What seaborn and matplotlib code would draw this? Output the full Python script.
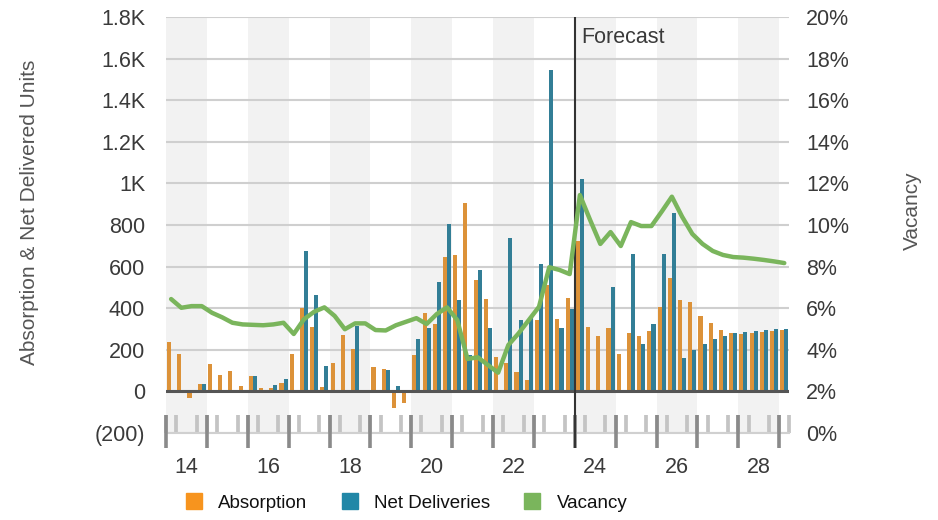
import matplotlib
matplotlib.use("Agg")
import matplotlib.pyplot as plt
import matplotlib.transforms as mtransforms
from matplotlib.lines import Line2D
import pandas as pd
import seaborn as sns

# quarters 2014Q1 .. 2029Q1
years = list(range(2014, 2029))
quarters = [f"{y}Q{q}" for y in years for q in range(1, 5)] + ["2029Q1"]

absorption = [236, 178, -32, 34, 130, 77, 96, 24, 72, 14, 14, 38,
              178, 400, 312, 19, 135, 270, 202, 0, 115, 106, -80, -56,
              173, 375, 322, 645, 654, 904, 534, 442, 164, 135, 91, 53,
              342, 510, 346, 447, 722, 308, 265, 303, 178, 279, 265, 289,
              404, 544, 438, 428, 361, 327, 293, 279, 274, 279, 284, 289, 293]
deliveries = [0, 0, 0, 34, 0, 0, 0, 0, 72, 0, 29, 58,
              0, 673, 462, 120, 0, 0, 315, 0, 0, 101, 24, 0,
              250, 303, 524, 803, 438, 173, 582, 303, 0, 736, 342, 361,
              611, 1545, 303, 394, 1020, 0, 0, 500, 0, 659, 226, 322,
              659, 856, 159, 197, 226, 250, 265, 279, 284, 289, 293, 298, 298]
vacancy = [6.44, 6.02, 6.1, 6.1, 5.78, 5.56, 5.3, 5.22, 5.2, 5.18, 5.22, 5.3,
           4.76, 5.47, 5.83, 6.04, 5.63, 4.99, 5.27, 5.27, 4.95, 4.93, 5.18, 5.35,
           5.52, 5.24, 5.72, 6.04, 5.43, 3.56, 3.64, 3.27, 2.9, 4.23, 4.79, 5.43,
           6.07, 7.97, 7.84, 7.64, 11.44, 10.24, 9.09, 9.66, 8.99, 10.14, 9.95, 9.95,
           10.64, 11.36, 10.4, 9.57, 9.09, 8.75, 8.56, 8.46, 8.43, 8.38, 8.32, 8.25, 8.17]

left_ticks = [-200, 0, 200, 400, 600, 800, 1000, 1200, 1400, 1600, 1800]
left_labels = ["(200)", "0", "200", "400", "600", "800", "1K", "1.2K", "1.4K", "1.6K", "1.8K"]
right_ticks = [0, 2, 4, 6, 8, 10, 12, 14, 16, 18, 20]
forecast_start = "2024Q1"

ORANGE = "#F7941E"
BLUE = "#2187A7"
GREEN = "#7AB55C"
TXT = "#3a3a3a"

sns.set_style("white")
plt.rcParams["font.family"] = ["Liberation Sans", "DejaVu Sans"]
plt.rcParams["font.size"] = 15.5

df = pd.DataFrame({
    "quarter": quarters * 2,
    "value": absorption + deliveries,
    "series": ["Absorption"] * len(quarters) + ["Net Deliveries"] * len(quarters),
})

fig = plt.figure(figsize=(9.38, 5.2), dpi=100)
ax = fig.add_axes([166 / 938, 1 - 433 / 520, 623.4 / 938, 416 / 520])

# alternating year bands
for i, y in enumerate(years):
    if i % 2 == 0:
        ax.axvspan(4 * i - 0.5, 4 * i + 3.5, ymin=-0.01, color="#F2F2F2", zorder=0, lw=0)

sns.barplot(data=df, x="quarter", y="value", hue="series", order=quarters,
            hue_order=["Absorption", "Net Deliveries"],
            palette=[ORANGE, BLUE], width=0.8, linewidth=0, legend=False, ax=ax, zorder=2)

ax.set_xlim(-0.5, len(quarters) - 0.5)
ax.set_ylim(-200, 1800)
ax.set_yticks(left_ticks)
ax.set_yticklabels(left_labels)
ax.yaxis.grid(True, color="#CFCFCF", lw=1.5)
ax.set_axisbelow(True)
ax.axhline(0, color="#555555", lw=2.2, zorder=3)
for s in ["top", "left", "right"]:
    ax.spines[s].set_visible(False)
ax.spines["bottom"].set_color("#D0D0D0")
ax.spines["bottom"].set_linewidth(1.5)
ax.set_xlabel("")
ax.set_ylabel("")

# x ticks: year labels at year centres, quarter marks as minor ticks
ax.set_xticks([4 * i + 1.5 for i in range(len(years))])
ax.set_xticklabels([str(y)[2:] if i % 2 == 0 else "" for i, y in enumerate(years)])
ax.set_xticks([k - 0.5 for k in range(len(quarters) + 1)], minor=True)
ax.tick_params(axis="x", which="major", length=0, pad=17, labelcolor=TXT)
ax.tick_params(axis="x", which="minor", bottom=True, direction="in", length=13, width=2.7,
               color="#C4C4C4")
ax.tick_params(axis="y", length=0, pad=15, labelcolor=TXT)

trans = mtransforms.blended_transform_factory(ax.transData, ax.transAxes)
ax.vlines([4 * i - 0.5 for i in range(len(years) + 1)], -15 / 416, 18 / 416,
          transform=trans, color="#8A8A8A", lw=2.6, clip_on=False, zorder=4)

# forecast marker
fx = quarters.index(forecast_start) - 0.5
ax.vlines([fx], -15 / 416, 1, transform=trans, color="#333333", lw=1.5, clip_on=False, zorder=5)
ax.text(fx + 0.6, 1700, "Forecast", va="center", ha="left", color=TXT)

ax2 = ax.twinx()
sns.lineplot(x=list(range(len(quarters))), y=vacancy, ax=ax2, color=GREEN, lw=3.2, zorder=6)
ax2.set_ylim(0, 20)
ax2.set_yticks(right_ticks)
ax2.set_yticklabels([f"{t}%" for t in right_ticks])
ax2.tick_params(axis="y", length=0, pad=12, labelcolor=TXT)
for s in ax2.spines.values():
    s.set_visible(False)
ax2.set_xlim(-0.5, len(quarters) - 0.5)

fig.text(30 / 938, 1 - 212 / 520, "Absorption & Net Delivered Units", rotation=90,
         va="center", ha="center", color="#555555", fontsize=15)
fig.text(912 / 938, 1 - 211 / 520, "Vacancy", rotation=90,
         va="center", ha="center", color="#555555", fontsize=15)

handles = [Line2D([], [], marker="s", ls="", ms=12.2, color=c, label=l)
           for c, l in [(ORANGE, "Absorption"), (BLUE, "Net Deliveries"), (GREEN, "Vacancy")]]
fig.legend(handles=handles, loc="center", bbox_to_anchor=(406 / 938, 1 - 503 / 520),
           ncol=3, frameon=False, handlelength=1.0, handletextpad=0.8, columnspacing=1.75,
           fontsize=13.5, labelcolor="#111111")

fig.savefig("out.png", dpi=100)
